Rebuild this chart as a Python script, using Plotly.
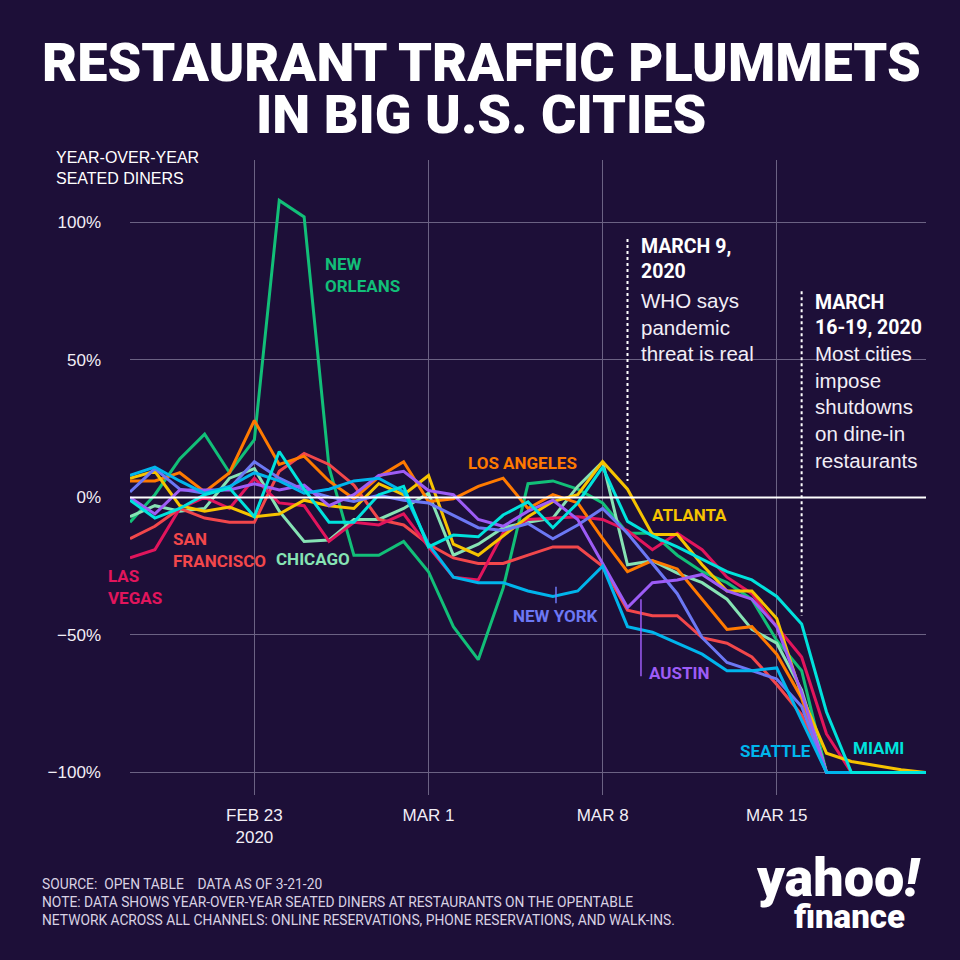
import pandas as pd
import plotly.graph_objects as go

# daily points, Feb 18 - Mar 21 2020
dates = pd.date_range("2020-02-18", "2020-03-21", freq="D")

# year-over-year change in seated diners, %
new_orleans = [-9, 1, 14, 23, 9, 21, 108, 102, 11, -21, -21, -16, -27, -47, -59, -33, 5,
               6, 3, -2, -13, -13, -21, -27, -31, -37, -52, -63, -100, -100, -100, -100, -100]
chicago = [-7, -3, -5, -4, 7, 10.5, -5, -16, -15.5, -8, -8, -4, 1.5, -21, -17, -11, -9,
           -7.5, 4, 13, -24.5, -23, -27.5, -31, -37, -48, -53, -70, -100, -100, -100, -100, -100]
san_francisco = [-15, -10.5, -4, -7.5, -9, -9, 9.5, 16, 12, 4.5, -8, -10, -17, -22, -24, -24, -21,
                 -18, -18, -25, -41, -43, -43, -51, -53, -58, -68, -79, -100, -100, -100, -100, -100]
las_vegas = [-22, -19, -4, 0, -4, 7, -2, -3, -16, -9, -10, -6, -18, -29, -30, -13, -8,
             -7.5, -7, -8, -12, -19, -13, -19, -29, -35, -47, -58, -86, -100, -100, -100, -100]
los_angeles = [6, 6, 9, 2, 9, 28, 12, 15, 6, -0.5, 7.5, 13, -1.5, -0.5, 4, 7, -4,
               1, -2, -15, -27, -23, -26, -37, -48, -47, -57, -73, -100, -100, -100, -100, -100]
atlanta = [7, 9.5, -3, -5, -3.5, -7, -6, -1, -3, -4, 5, 1, 8, -17, -21, -14, -7,
           -1.5, 1, 13, 3, -13.5, -13.5, -24.5, -34, -34, -44, -72, -93, -96, -97.5, -99, -100]
new_york = [2, 10.5, 3, 1.5, 3.3, 13, 7, 2.7, 0.2, -1.5, 0.8, -1, -2, -6.5, -11, -12, -9.5,
            -15, -10, -4, -13, -24, -35, -51, -60, -63, -66, -76, -100, -100, -100, -100, -100]
austin = [0, -6, 2.7, 2.7, 2.7, 5, 2.7, 4.5, -3, 1, 8, 9.5, 2.5, 1, -8, -10.5, -5,
          -1, -8, -24, -40, -31, -30, -28, -34, -37, -47, -71, -100, -100, -100, -100, -100]
seattle = [8, 11, 6, 1.5, 4, 9, 6, 1.5, 3, 6, 7, 2, -17, -29, -31, -31, -34,
           -36, -34, -25, -47, -49, -53, -57, -63, -63, -62, -81, -100, -100, -100, -100, -100]
miami = [-1, -7.5, -4, 1, 3.4, -7, 16.7, 3, -9, -9, 1, 4, -18, -13.7, -14.3, -6.4, -1.6,
         -11, -2, 11, -8.7, -14, -18, -22.5, -27, -30, -36, -46, -78, -100, -100, -100, -100]

series = [
    ("New Orleans", new_orleans, "#12bf78"),
    ("Chicago", chicago, "#86e3b4"),
    ("San Francisco", san_francisco, "#f2474b"),
    ("Las Vegas", las_vegas, "#e2155c"),
    ("Los Angeles", los_angeles, "#ff7a00"),
    ("Atlanta", atlanta, "#f6c300"),
    ("New York", new_york, "#6c78f4"),
    ("Austin", austin, "#9d5cf6"),
    ("Seattle", seattle, "#00b5ec"),
    ("Miami", miami, "#00e2dc"),
]

x_ticks = ["2020-02-23", "2020-03-01", "2020-03-08", "2020-03-15"]
x_ticktext = ["FEB 23<br>2020", "MAR 1", "MAR 8", "MAR 15"]
y_ticks = [-100, -50, 0, 50, 100]
y_ticktext = ["\u2212100%", "\u221250%", "0%", "50%", "100%"]

BG = "#1d0f38"
GRID = "#6b6283"
SANS = "Roboto, sans-serif"
HELV = "Liberation Sans, Arial, sans-serif"
L, R, T, B = 130, 34, 160, 165


def paper(px, py):
    return (px - L) / (960 - L - R), (960 - B - py) / (960 - T - B)


fig = go.Figure()
for name, vals, color in series:
    fig.add_trace(go.Scatter(x=dates, y=vals, mode="lines", name=name,
                             line=dict(color=color, width=3), hoverinfo="skip"))

annotations = []


def note(text, px, py, size, color="white", family=SANS, xanchor="left",
         yanchor="middle", weight="normal", align="left"):
    x, y = paper(px, py)
    annotations.append(dict(text=text, x=x, y=y, xref="paper", yref="paper",
                            xanchor=xanchor, yanchor=yanchor, showarrow=False, align=align,
                            font=dict(size=size, color=color, family=family, weight=weight)))


# title
note("RESTAURANT TRAFFIC PLUMMETS", 481, 63, 54, xanchor="center", weight=900)
note("IN BIG U.S. CITIES", 481, 114, 54, xanchor="center", weight=900)
note("YEAR-OVER-YEAR<br>SEATED DINERS", 54, 168, 16, family=HELV)

# city labels
note("NEW<br>ORLEANS", 323, 275, 17, "#12bf78", weight="bold")
note("SAN<br>FRANCISCO", 171, 550, 17, "#f2474b", weight="bold")
note("CHICAGO", 274, 559, 17, "#86e3b4", weight="bold")
note("LAS<br>VEGAS", 106, 587, 17, "#e2155c", weight="bold")
note("LOS ANGELES", 466, 463, 17, "#ff7a00", weight="bold")
note("ATLANTA", 650, 515, 17, "#f6c300", weight="bold")
note("NEW YORK", 511, 616, 17, "#6c78f4", weight="bold")
note("AUSTIN", 647, 673, 17, "#9d5cf6", weight="bold")
note("SEATTLE", 738, 751, 17, "#00b5ec", weight="bold")
note("MIAMI", 851, 748, 17, "#00e2dc", weight="bold")

# event callouts
note("MARCH 9,<br>2020", 639, 259, 19.5, weight="bold")
note("WHO says<br>pandemic<br>threat is real", 639, 327, 20.5, color="#f2eef6", family=HELV)
note("MARCH<br>16-19, 2020", 813, 315, 19.5, weight="bold")
note("Most cities<br>impose<br>shutdowns<br>on dine-in<br>restaurants", 813, 407, 20.5,
     color="#f2eef6", family=HELV)

# footer
note("SOURCE:  OPEN TABLE    DATA AS OF 3-21-20<br>"
     "NOTE: DATA SHOWS YEAR-OVER-YEAR SEATED DINERS AT RESTAURANTS ON THE OPENTABLE<br>"
     "NETWORK ACROSS ALL CHANNELS: ONLINE RESERVATIONS, PHONE RESERVATIONS, AND WALK-INS.",
     40, 902, 13.8, color="#d9d2e4")
note("yahoo<i>!</i>", 838, 877, 54, xanchor="center", weight=900)
note("finance", 849, 916, 33, xanchor="center", weight=900)

shapes = [
    # zero line drawn over the series
    dict(type="line", xref="x", yref="y", x0=dates[0], x1=dates[-1], y0=0, y1=0,
         line=dict(color="white", width=2), layer="above"),
    # event markers
    dict(type="line", xref="x", yref="y", x0="2020-03-09", x1="2020-03-09", y0=94, y1=6,
         line=dict(color="white", width=2, dash="dot")),
    dict(type="line", xref="x", yref="y", x0="2020-03-16", x1="2020-03-16", y0=75, y1=-43,
         line=dict(color="white", width=2, dash="dot")),
    # label leaders
    dict(type="line", xref="x", yref="y", x0="2020-03-06 03:00", x1="2020-03-06 03:00",
         y0=-32.5, y1=-38.5, line=dict(color="#6c78f4", width=1.5)),
    dict(type="line", xref="x", yref="y", x0="2020-03-09 13:00", x1="2020-03-09 13:00",
         y0=-37, y1=-65, line=dict(color="#9d5cf6", width=1.5)),
]

fig.update_layout(
    width=960, height=960,
    margin=dict(l=L, r=R, t=T, b=B),
    paper_bgcolor=BG, plot_bgcolor=BG,
    showlegend=False, hovermode=False,
    annotations=annotations, shapes=shapes,
    xaxis=dict(range=[dates[0], dates[-1]], tickvals=x_ticks, ticktext=x_ticktext,
               showgrid=True, gridcolor=GRID, gridwidth=1, zeroline=False, showline=False,
               ticks="", ticklabelstandoff=8,
               tickfont=dict(size=17, color="#f2eef6", family=HELV)),
    yaxis=dict(range=[-108.2, 122.7], tickvals=y_ticks, ticktext=y_ticktext,
               showgrid=True, gridcolor=GRID, gridwidth=1, zeroline=False, showline=False,
               ticks="", ticklabelstandoff=28,
               tickfont=dict(size=17, color="#f2eef6", family=HELV)),
)

fig.write_html("out.html", config={"displayModeBar": False},
               post_script="document.body.style.margin='0';"
                           "document.body.style.background='%s';" % BG)
